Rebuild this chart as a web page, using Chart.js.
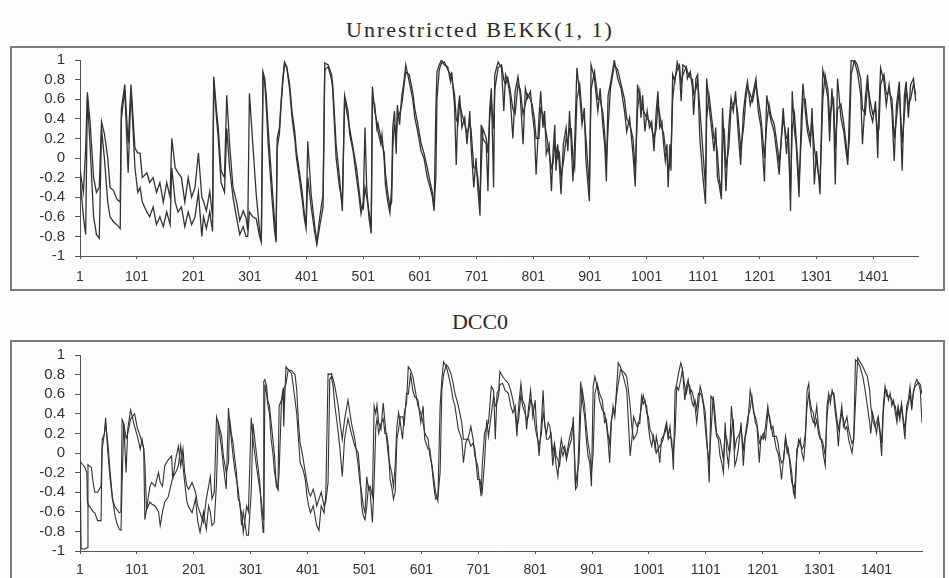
<!DOCTYPE html>
<html>
<head>
<meta charset="utf-8">
<script src="https://cdn.jsdelivr.net/npm/chart.js@4.4.1/dist/chart.umd.min.js"></script>
<style>
    html, body { margin: 0; padding: 0; background: #fcfcfc; }
    #page { position: relative; width: 949px; height: 578px; overflow: hidden; background: #fcfcfc; }
    .title { position: absolute; left: 0; width: 960px; text-align: center; color: #2a2a2a;
             font-family: "Liberation Serif", "DejaVu Serif", serif; font-size: 22px; line-height: 26px; }
    .box { position: absolute; left: 10px; width: 935px; border: 2px solid #7c7c7c; box-sizing: border-box; }
    canvas { position: absolute; left: 0; }
</style>
</head>
<body>
<div id="page">
    <div class="title" style="top:17px;letter-spacing:2px">Unrestricted BEKK(1, 1)</div>
    <div class="box" style="top:46px;height:245px"></div>
    <div class="title" style="top:309px">DCC0</div>
    <div class="box" style="top:340px;height:242px"></div>
    <canvas id="bekkChart" width="949" height="249" style="top:41px"></canvas>
    <canvas id="dccChart" width="949" height="242" style="top:336px"></canvas>
</div>
<script>
// ─── Axis ticks ──────────────────────────────────────────────────────────────
const xTicks      = [1, 101, 201, 301, 401, 501, 601, 701, 801, 901, 1001, 1101, 1201, 1301, 1401];
const xTickLabels = ['1', '101', '201', '301', '401', '501', '601', '701', '801', '901', '1001', '1101', '1201', '1301', '1401'];
const yTicks      = [-1, -0.8, -0.6, -0.4, -0.2, 0, 0.2, 0.4, 0.6, 0.8, 1];
const yTickLabels = ['-1', '-0.8', '-0.6', '-0.4', '-0.2', '0', '0.2', '0.4', '0.6', '0.8', '1'];

// ─── Unrestricted BEKK(1, 1): observation index + two correlation series ────
const bekkX = [1,7,11,14,19,25,30,35,39,44,
    50,54,60,66,72,74,80,86,91,98,
    103,107,111,119,124,130,136,142,148,154,
    160,163,169,174,180,186,192,198,204,210,
    216,219,224,230,235,237,242,245,250,256,
    260,265,271,277,283,289,294,297,300,306,
    312,318,321,324,327,330,333,339,344,347,
    349,353,356,359,362,366,371,375,380,383,
    388,393,397,400,403,409,415,419,424,430,
    433,439,445,447,453,459,464,468,474,477,
    483,489,493,497,501,504,507,511,515,517,
    521,525,527,532,534,538,540,544,548,551,
    553,556,559,561,565,569,572,576,582,588,
    592,597,603,608,614,619,623,626,629,631,
    635,639,644,650,655,657,662,665,668,671,
    675,680,684,689,691,696,700,703,707,709,
    712,718,721,724,727,731,733,739,745,749,
    752,756,760,765,769,774,778,783,787,791,
    796,799,803,806,811,814,818,821,824,829,
    833,836,839,841,844,847,850,854,859,862,
    865,868,871,874,878,883,887,891,894,900,
    903,909,915,919,924,927,930,933,937,944,
    950,956,962,966,971,977,981,985,989,991,
    994,998,1002,1006,1010,1014,1018,1021,1024,1028,
    1031,1034,1037,1039,1042,1044,1047,1051,1055,1059,
    1062,1065,1071,1073,1078,1082,1084,1088,1091,1095,
    1100,1105,1107,1111,1115,1120,1123,1126,1129,1133,
    1135,1138,1141,1146,1150,1154,1158,1162,1167,1172,
    1176,1179,1184,1188,1194,1198,1203,1209,1213,1217,
    1221,1226,1231,1235,1242,1248,1251,1255,1258,1262,
    1265,1270,1274,1277,1281,1285,1290,1293,1297,1301,
    1307,1312,1316,1321,1324,1328,1331,1334,1338,1344,
    1349,1353,1356,1359,1362,1368,1373,1379,1382,1387,
    1391,1395,1400,1405,1409,1411,1414,1420,1424,1429,
    1434,1438,1442,1447,1452,1456,1459,1463,1467,1472,
    1476];
const bekkA = [-0.12,-0.35,0.1,0.67,0.35,-0.2,-0.35,-0.3,0.37,0.25,
    0.0,-0.3,-0.33,-0.42,-0.45,0.5,0.75,0.15,0.75,0.1,
    0.05,0.05,-0.2,-0.15,-0.25,-0.2,-0.35,-0.25,-0.45,-0.25,
    -0.4,0.2,-0.1,-0.15,-0.2,-0.45,-0.2,-0.4,-0.3,0.05,
    -0.4,-0.44,-0.54,-0.34,-0.6,0.83,0.48,0.31,-0.13,-0.2,
    0.64,0.14,-0.3,-0.44,-0.64,-0.54,-0.61,-0.74,0.66,0.14,
    -0.37,-0.74,-0.84,0.88,0.81,0.61,0.31,-0.2,-0.61,-0.84,
    0.2,0.31,0.58,0.81,0.98,0.93,0.75,0.48,0.27,0.07,
    -0.13,-0.34,-0.57,-0.68,0.17,-0.37,-0.68,-0.86,-0.61,-0.37,
    0.97,0.95,0.85,0.75,0.14,-0.2,-0.54,0.64,0.48,0.24,
    0.07,-0.2,-0.37,-0.57,-0.44,0.31,-0.3,-0.61,-0.77,0.73,
    0.48,0.37,0.27,0.14,0.24,-0.03,-0.27,-0.44,-0.56,-0.3,
    0.31,0.48,0.04,0.54,0.34,0.64,0.75,0.95,0.78,0.61,
    0.41,0.27,0.07,0.0,-0.2,-0.3,-0.4,-0.54,0.48,0.88,
    0.95,1.0,0.95,0.93,0.78,0.88,0.54,-0.07,0.48,0.64,
    0.31,0.41,0.14,0.48,0.14,-0.3,0.0,-0.3,-0.59,0.34,
    0.2,0.14,-0.34,0.5,0.71,-0.3,0.85,0.98,0.92,0.48,
    0.85,0.78,0.64,0.2,0.68,0.83,0.64,0.14,0.71,0.61,
    0.68,0.48,0.27,-0.17,0.41,0.68,0.31,0.48,0.04,0.14,
    -0.34,0.07,0.34,-0.13,0.14,-0.07,-0.37,0.14,0.31,0.07,
    0.48,0.14,-0.24,0.14,0.92,0.64,0.34,0.51,-0.03,-0.44,
    0.95,0.81,0.48,0.71,0.31,0.14,-0.24,0.64,0.75,1.0,
    0.81,0.71,0.48,0.27,0.41,0.04,-0.29,0.75,0.61,0.41,
    0.64,0.27,0.48,0.31,0.37,0.07,0.48,0.68,0.31,0.37,
    0.14,-0.03,0.14,-0.3,0.14,-0.13,0.85,0.78,0.98,0.88,
    0.58,0.95,0.92,0.81,0.88,0.71,0.44,0.81,0.85,0.2,
    -0.17,-0.47,0.81,0.54,0.34,0.07,0.31,-0.2,-0.27,-0.42,
    0.51,0.14,-0.34,0.31,0.61,0.48,0.68,0.31,-0.07,0.48,
    0.68,0.78,0.54,0.64,0.81,0.48,0.31,-0.24,0.64,0.48,
    0.37,0.27,0.04,-0.17,0.51,0.04,0.31,-0.54,0.68,0.27,
    0.14,-0.4,0.41,0.76,0.48,0.27,0.14,0.51,-0.27,0.07,
    -0.37,0.9,0.78,0.61,0.17,0.71,0.48,-0.27,0.81,0.41,
    0.27,0.07,-0.07,0.48,1.0,0.98,0.88,0.64,0.14,0.61,
    0.85,0.48,0.37,0.58,0.0,0.48,0.92,0.78,0.54,0.75,
    0.48,-0.03,0.54,0.78,-0.13,0.64,0.78,0.41,0.75,0.81,
    0.58];
const bekkB = [-0.2,-0.6,-0.78,0.62,0.1,-0.6,-0.78,-0.82,0.3,0.0,
    -0.45,-0.6,-0.65,-0.68,-0.72,0.4,0.7,-0.15,0.7,-0.1,
    -0.35,-0.3,-0.45,-0.55,-0.6,-0.5,-0.68,-0.6,-0.7,-0.55,
    -0.68,-0.1,-0.45,-0.55,-0.5,-0.7,-0.55,-0.68,-0.6,-0.35,
    -0.8,-0.6,-0.72,-0.55,-0.75,0.8,0.4,0.2,-0.25,-0.35,
    0.3,-0.1,-0.4,-0.6,-0.78,-0.7,-0.8,-0.8,-0.55,-0.6,
    -0.62,-0.8,-0.86,0.85,0.78,0.5,0.15,-0.35,-0.72,-0.86,
    0.1,0.25,0.55,0.78,0.96,0.92,0.7,0.42,0.2,0.0,
    -0.2,-0.42,-0.62,-0.72,-0.2,-0.5,-0.75,-0.88,-0.7,-0.5,
    0.9,0.93,0.8,0.7,0.0,-0.3,-0.45,0.6,0.4,0.3,
    0.1,-0.1,-0.3,-0.5,-0.52,-0.3,-0.4,-0.55,-0.7,0.6,
    0.55,0.3,0.35,0.2,0.15,0.05,-0.15,-0.35,-0.5,-0.45,
    0.1,0.35,0.2,0.4,0.45,0.55,0.7,0.88,0.85,0.68,
    0.5,0.35,0.15,0.05,-0.1,-0.25,-0.35,-0.5,-0.2,0.6,
    0.9,0.97,0.98,0.9,0.85,0.82,0.65,0.4,0.35,0.55,
    0.45,0.35,0.25,0.35,0.3,-0.1,-0.1,-0.2,-0.45,-0.1,
    0.3,0.2,0.05,0.4,0.6,0.3,0.7,0.92,0.95,0.8,
    0.75,0.82,0.7,0.5,0.45,0.75,0.7,0.45,0.55,0.65,
    0.6,0.55,0.4,0.2,0.2,0.5,0.45,0.35,0.25,0.05,
    -0.1,-0.05,0.15,0.1,0.0,0.05,-0.2,-0.05,0.2,0.15,
    0.3,0.3,0.0,-0.1,0.6,0.75,0.45,0.4,0.2,-0.3,
    0.7,0.88,0.6,0.6,0.45,0.25,-0.05,0.3,0.7,0.95,
    0.9,0.75,0.6,0.4,0.35,0.2,-0.15,0.5,0.68,0.55,
    0.5,0.45,0.4,0.38,0.3,0.2,0.3,0.55,0.45,0.3,
    0.25,0.1,0.05,-0.15,-0.05,0.05,0.6,0.82,0.9,0.95,
    0.75,0.85,0.93,0.88,0.82,0.8,0.65,0.7,0.8,0.5,
    0.1,-0.3,0.4,0.65,0.45,0.2,0.2,0.05,-0.2,-0.35,
    0.1,0.3,-0.1,0.1,0.5,0.55,0.6,0.45,0.1,0.3,
    0.6,0.72,0.65,0.58,0.75,0.6,0.4,0.0,0.35,0.55,
    0.42,0.35,0.15,-0.05,0.4,0.2,0.2,-0.35,0.3,0.45,
    0.2,-0.25,0.2,0.6,0.6,0.35,0.2,0.4,0.1,-0.05,
    -0.25,0.6,0.85,0.7,0.4,0.55,0.6,0.1,0.5,0.55,
    0.35,0.15,0.0,0.2,0.85,1.0,0.95,0.8,0.5,0.45,
    0.75,0.6,0.45,0.5,0.25,0.3,0.75,0.85,0.65,0.68,
    0.6,0.2,0.4,0.7,0.15,0.45,0.7,0.55,0.6,0.75,
    0.65];

// ─── DCC0: observation index + two correlation series ────────────────────────
const dccX = [1,3,9,13,14,15,21,24,27,32,
    38,40,44,46,50,54,58,62,65,70,
    73,75,78,82,85,90,97,102,107,110,
    113,115,118,124,127,133,139,142,146,150,
    156,162,164,169,174,178,182,185,189,192,
    198,204,208,212,218,223,227,230,233,237,
    241,244,250,253,258,262,264,267,270,273,
    276,279,282,285,288,294,297,302,305,311,
    317,320,323,324,326,329,331,334,337,340,
    343,346,349,351,355,358,359,363,367,373,
    379,382,385,388,393,397,400,403,406,411,
    414,417,421,425,430,433,437,440,443,446,
    449,452,455,458,462,466,472,478,484,490,
    493,496,499,502,505,508,511,515,518,521,
    523,526,530,534,537,540,543,546,549,552,
    555,558,561,564,568,571,575,578,582,586,
    589,595,600,604,607,613,616,620,623,626,
    630,634,637,640,645,648,653,657,660,666,
    672,675,679,684,688,692,695,700,704,706,
    708,712,716,719,724,728,731,734,737,739,
    744,748,754,758,762,766,769,772,776,779,
    783,786,789,793,797,801,803,808,812,815,
    818,821,824,827,829,832,835,838,841,844,
    847,850,853,856,861,865,868,871,872,875,
    878,881,884,888,891,894,897,900,903,906,
    910,914,919,923,926,929,932,935,938,941,
    944,947,951,956,959,962,965,968,971,974,
    980,982,985,988,991,994,997,1000,1003,1006,
    1009,1012,1014,1017,1020,1023,1026,1029,1032,1035,
    1038,1041,1044,1047,1050,1053,1057,1060,1061,1064,
    1067,1070,1073,1076,1079,1082,1085,1088,1091,1094,
    1097,1100,1103,1107,1110,1114,1117,1120,1123,1126,
    1129,1132,1135,1138,1141,1143,1146,1149,1152,1155,
    1158,1163,1167,1170,1175,1179,1182,1185,1188,1191,
    1195,1198,1202,1206,1210,1213,1216,1219,1222,1225,
    1228,1231,1234,1238,1241,1244,1246,1249,1252,1255,
    1258,1261,1264,1267,1270,1273,1276,1279,1282,1284,
    1287,1290,1293,1296,1299,1302,1305,1308,1311,1314,
    1317,1320,1323,1326,1328,1331,1334,1337,1340,1343,
    1346,1349,1352,1355,1358,1361,1364,1368,1372,1377,
    1381,1385,1389,1391,1394,1398,1401,1404,1407,1410,
    1413,1416,1419,1422,1425,1428,1431,1434,1437,1439,
    1442,1445,1448,1451,1454,1457,1460,1463,1466,1469,
    1472,1475,1478,1481];
const dccA = [-0.08,-0.1,-0.14,-0.2,-0.5,-0.52,-0.57,-0.6,-0.61,-0.69,
    -0.69,0.14,0.2,0.36,0.0,-0.27,-0.47,-0.54,-0.57,-0.61,
    -0.6,0.34,0.3,-0.2,0.25,0.44,0.27,0.17,0.04,0.14,
    0.04,-0.68,-0.57,-0.34,-0.3,-0.34,-0.2,-0.3,-0.34,-0.13,
    -0.07,-0.03,-0.27,-0.07,0.07,-0.13,0.04,-0.2,-0.34,-0.37,
    -0.3,-0.4,-0.54,-0.61,-0.71,-0.47,-0.34,-0.24,-0.47,-0.4,
    0.37,0.3,0.04,-0.13,-0.37,0.46,0.31,0.14,-0.03,-0.17,
    -0.27,-0.37,-0.54,-0.61,-0.81,-0.54,-0.6,0.36,0.14,-0.13,
    -0.37,-0.5,-0.68,0.73,0.75,0.68,0.54,0.48,0.31,0.14,
    -0.03,-0.34,-0.37,0.48,0.54,0.66,0.27,0.88,0.85,0.81,
    0.54,0.4,0.14,-0.1,-0.17,-0.27,-0.44,-0.54,-0.61,-0.54,
    -0.64,-0.74,-0.79,-0.54,-0.61,-0.44,0.81,0.8,0.81,0.75,
    0.68,0.58,0.48,0.31,0.14,0.34,0.54,0.31,0.14,-0.13,
    -0.3,-0.4,-0.54,-0.61,-0.24,-0.37,-0.34,-0.44,0.48,0.4,
    0.49,0.31,0.24,0.51,0.31,0.14,-0.03,-0.13,-0.2,-0.34,
    -0.13,0.27,0.41,0.31,0.14,0.41,0.51,0.88,0.85,0.78,
    0.68,0.48,0.41,0.31,0.2,0.14,-0.03,-0.13,-0.27,-0.4,
    -0.49,0.48,0.75,0.93,0.88,0.81,0.68,0.54,0.48,0.24,
    0.14,-0.1,0.1,0.17,0.27,0.14,-0.03,-0.13,-0.34,-0.44,
    -0.13,0.2,0.27,0.31,0.68,0.64,0.14,0.61,0.64,0.83,
    0.78,0.75,0.71,0.64,0.54,0.41,0.17,0.48,0.71,0.54,
    0.48,0.24,0.44,0.64,0.37,0.54,0.31,-0.03,0.31,0.64,
    0.27,0.2,0.31,0.27,0.14,-0.13,0.04,-0.13,-0.24,0.0,
    0.14,0.04,0.07,-0.07,0.07,0.14,0.37,-0.2,-0.37,-0.34,
    0.14,0.73,0.54,0.37,0.14,-0.03,-0.1,-0.34,0.68,0.78,
    0.68,0.54,0.44,0.41,0.31,0.14,-0.1,0.31,0.48,0.37,
    0.64,0.92,0.88,0.78,0.71,0.64,0.31,-0.03,0.14,0.37,
    0.27,0.27,0.37,0.48,0.59,0.51,0.48,0.27,0.14,0.07,
    0.17,0.04,0.17,0.07,-0.1,0.14,0.17,0.2,0.27,0.14,
    0.17,0.14,-0.17,0.64,0.71,0.81,0.92,0.85,0.78,0.54,
    0.68,0.75,0.61,0.64,0.58,0.48,0.31,0.48,0.68,0.61,
    0.51,0.41,0.14,-0.3,0.58,0.54,0.31,0.17,0.14,-0.03,
    -0.1,-0.2,0.31,0.0,-0.13,0.04,0.48,0.27,-0.13,-0.07,
    0.04,0.31,-0.13,0.14,0.31,0.64,0.54,0.44,0.31,0.27,
    -0.1,0.17,0.14,0.27,0.48,0.34,0.24,0.27,0.14,0.04,
    0.0,-0.1,-0.27,-0.03,0.14,0.0,0.04,-0.13,-0.3,-0.34,
    -0.47,0.04,0.07,0.14,0.0,-0.07,0.14,0.64,0.71,0.48,
    0.37,0.31,0.34,0.48,0.27,0.17,0.1,-0.03,-0.13,0.48,
    0.61,0.51,0.64,0.58,0.44,0.31,0.07,0.31,0.41,0.34,
    0.24,0.27,0.14,0.07,0.0,0.14,0.95,0.93,0.88,0.78,
    0.64,0.48,0.31,0.2,0.41,0.31,0.2,0.34,0.2,-0.03,
    0.41,0.61,0.64,0.54,0.61,0.48,0.54,0.41,0.31,0.44,
    0.34,0.48,0.31,0.14,0.48,0.54,0.68,0.48,0.61,0.71,
    0.75,0.71,0.64,0.31];
const dccB = [-0.1,-0.98,-0.98,-0.97,-0.96,-0.12,-0.15,-0.3,-0.4,-0.4,
    -0.34,0.05,0.2,0.3,0.1,-0.2,-0.45,-0.62,-0.7,-0.78,
    -0.79,-0.3,0.3,0.15,0.2,0.35,0.4,0.25,0.17,0.1,
    0.05,-0.1,-0.58,-0.5,-0.52,-0.54,-0.6,-0.74,-0.6,-0.5,
    -0.45,-0.3,-0.25,-0.2,-0.13,0.07,-0.13,-0.3,-0.5,-0.55,
    -0.61,-0.47,-0.7,-0.81,-0.6,-0.78,-0.54,-0.6,-0.74,-0.71,
    -0.3,0.31,0.17,-0.03,-0.2,-0.1,0.35,0.2,0.1,-0.05,
    -0.2,-0.47,-0.5,-0.74,-0.6,-0.84,-0.84,-0.4,0.3,0.0,
    -0.3,-0.6,-0.81,-0.8,0.7,0.6,0.5,0.4,0.14,0.0,
    -0.2,-0.3,-0.37,-0.2,0.5,0.6,0.66,0.7,0.85,0.84,
    0.8,0.64,0.31,0.1,-0.05,-0.2,-0.3,-0.4,-0.44,-0.37,
    -0.44,-0.54,-0.47,-0.4,-0.54,-0.5,-0.3,0.75,0.78,0.68,
    0.48,0.35,0.2,0.04,-0.24,0.14,0.35,0.2,0.07,0.0,
    -0.2,-0.54,-0.64,-0.68,-0.55,-0.34,-0.4,-0.71,-0.3,0.27,
    0.35,0.2,0.3,0.35,0.2,0.2,0.07,-0.27,-0.35,-0.47,
    -0.4,0.14,0.24,0.37,0.37,0.3,0.61,0.6,0.8,0.64,
    0.58,0.54,0.31,0.48,0.14,0.04,0.04,-0.17,-0.34,-0.47,
    -0.45,-0.2,0.64,0.8,0.9,0.88,0.81,0.71,0.61,0.48,
    0.31,0.14,0.14,0.14,0.07,0.1,0.04,-0.27,-0.27,-0.35,
    -0.4,-0.1,0.34,0.17,0.4,0.58,0.48,0.51,0.6,0.7,
    0.71,0.64,0.61,0.48,0.41,0.48,0.27,0.34,0.6,0.48,
    0.41,0.34,0.37,0.54,0.48,0.27,0.2,0.07,0.2,0.41,
    0.3,0.14,0.14,0.17,0.2,0.0,0.1,-0.03,-0.07,-0.13,
    0.04,-0.03,0.04,-0.03,0.14,0.24,0.3,-0.13,-0.34,-0.2,
    -0.1,0.4,0.64,0.48,0.27,0.1,0.0,-0.2,0.0,0.6,
    0.71,0.61,0.54,0.31,0.34,0.2,0.1,0.34,0.41,0.41,
    0.58,0.7,0.85,0.83,0.81,0.78,0.64,0.48,0.27,0.14,
    0.2,0.31,0.3,0.58,0.5,0.54,0.41,0.37,0.24,0.2,
    0.14,0.1,0.0,0.04,0.07,0.1,0.14,0.24,0.31,0.17,
    0.27,0.07,0.0,0.2,0.68,0.64,0.75,0.85,0.81,0.68,
    0.61,0.71,0.68,0.54,0.48,0.54,0.44,0.61,0.61,0.58,
    0.48,0.27,0.07,-0.1,0.2,0.58,0.41,0.2,0.17,0.14,
    0.04,-0.07,0.2,0.14,0.04,0.0,0.2,0.35,0.04,0.14,
    0.17,0.24,0.04,0.17,0.37,0.45,0.58,0.41,0.37,0.3,
    0.1,0.14,0.2,0.14,0.41,0.37,0.27,0.17,0.17,0.17,
    0.1,-0.03,-0.1,-0.07,0.17,0.07,0.0,-0.07,-0.2,-0.4,
    -0.3,-0.03,0.14,0.1,0.04,0.07,0.2,0.48,0.6,0.54,
    0.44,0.41,0.27,0.34,0.2,0.14,0.14,0.07,-0.03,0.37,
    0.54,0.58,0.6,0.61,0.51,0.37,0.24,0.34,0.48,0.27,
    0.31,0.37,0.24,0.17,0.1,0.14,0.5,0.97,0.93,0.88,
    0.83,0.78,0.64,0.48,0.34,0.27,0.31,0.37,0.24,0.1,
    0.48,0.68,0.58,0.58,0.58,0.54,0.5,0.48,0.37,0.48,
    0.38,0.51,0.35,0.25,0.41,0.5,0.61,0.44,0.64,0.68,
    0.7,0.72,0.7,0.6];

(function () {
    'use strict';

    const LINE  = '#333333';
    const AXIS  = '#555555';
    const XFONT = { family: '"Liberation Sans", Arial, sans-serif', size: 14 };
    const YFONT = { family: '"Liberation Sans", Arial, sans-serif', size: 15 };

    function points(xs, ys) {
        return xs.map((x, i) => ({ x: x, y: ys[i] }));
    }

    function series(xs, ys, width) {
        return {
            data: points(xs, ys),
            borderColor: LINE,
            borderWidth: width,
            pointRadius: 0,
            fill: false,
            tension: 0,
        };
    }

    // ─── One panel: fixed axis sizes so the plot box lands where it should ──
    // y tick padding (10) + half a label (9) puts the plot top 19px into the canvas
    function panel(id, xs, ya, yb, cfg) {
        const ctx = document.getElementById(id);
        return new Chart(ctx, {
            type: 'line',
            data: { datasets: [series(xs, ya, cfg.lw), series(xs, yb, cfg.lw)] },
            options: {
                responsive: false,
                animation: false,
                devicePixelRatio: 1,
                layout: { padding: { top: 19, right: cfg.right, left: 0, bottom: 0 } },
                plugins: { legend: { display: false }, tooltip: { enabled: false } },
                scales: {
                    x: {
                        type: 'linear',
                        min: 1,
                        max: cfg.xMax,
                        afterBuildTicks: s => { s.ticks = xTicks.map(v => ({ value: v })); },
                        afterFit: s => { s.height = cfg.xAxisH; },
                        grid: { drawOnChartArea: false, tickLength: 3, color: AXIS },
                        border: { display: true, color: AXIS, width: 1 },
                        ticks: {
                            autoSkip: false, maxRotation: 0, padding: cfg.xPad, color: '#333', font: XFONT,
                            callback: (v, i) => xTickLabels[i],
                        },
                    },
                    y: {
                        min: -1,
                        max: 1,
                        afterBuildTicks: s => { s.ticks = yTicks.map(v => ({ value: v })); },
                        afterFit: s => { s.width = 80; },
                        grid: { drawOnChartArea: false, tickLength: 5, color: AXIS },
                        border: { display: true, color: AXIS, width: 1 },
                        ticks: {
                            autoSkip: false, padding: 10, color: '#333', font: YFONT,
                            callback: (v, i) => yTickLabels[i],
                        },
                    },
                },
            },
        });
    }

    panel('bekkChart', bekkX, bekkA, bekkB, { right: 31, xMax: 1480, xAxisH: 34, xPad: 10, lw: 1.3 });
    panel('dccChart',  dccX,  dccA,  dccB,  { right: 27, xMax: 1481, xAxisH: 27, xPad: 8,  lw: 1.1 });
})();
</script>
</body>
</html>
